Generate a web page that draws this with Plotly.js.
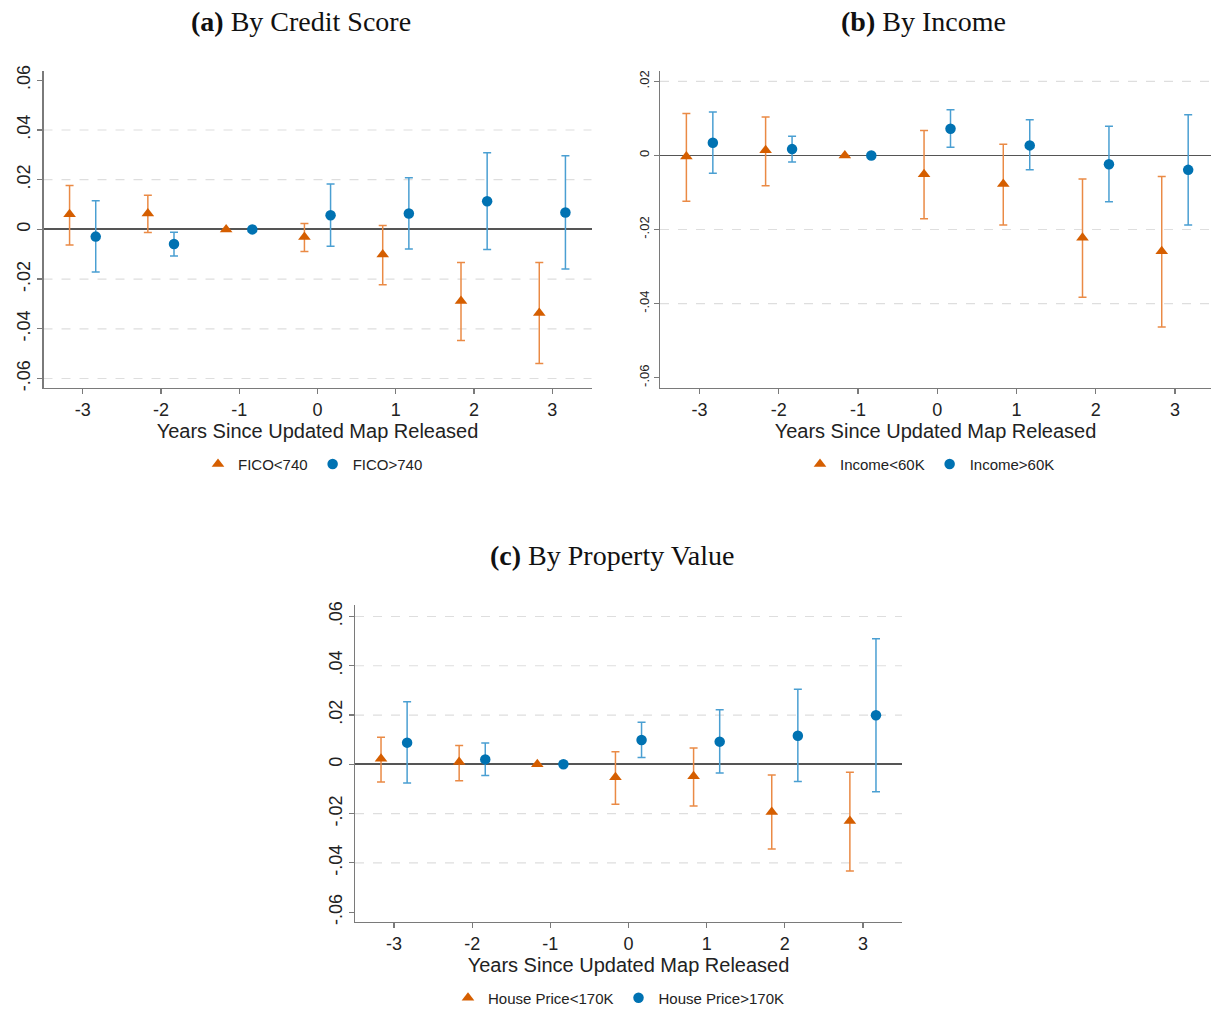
<!DOCTYPE html>
<html>
<head>
<meta charset="utf-8">
<script src="https://cdn.plot.ly/plotly-3.0.1.min.js"></script>
<style>html,body{margin:0;padding:0;background:#fff;}#chart{width:1211px;height:1015px;}</style>
</head>
<body>
<div id="chart"></div>
<script>
// ---- data ----
const years = [-3, -2, -1, 0, 1, 2, 3];
const xTickText = ["-3", "-2", "-1", "0", "1", "2", "3"];

// (a) By Credit Score
const aLowPt = [0.0061, 0.0064, 0, -0.0031, -0.0101, -0.0288, -0.0336];
const aLowHi = [0.0177, 0.0137, null, 0.0024, 0.0016, -0.0133, -0.0133];
const aLowLo = [-0.0063, -0.0013, null, -0.0089, -0.0223, -0.0447, -0.0540];
const aHighPt = [-0.0029, -0.0059, 0, 0.0057, 0.0064, 0.0113, 0.0068];
const aHighHi = [0.0115, -0.0012, null, 0.0183, 0.0208, 0.0308, 0.0296];
const aHighLo = [-0.0171, -0.0107, null, -0.0068, -0.0079, -0.0081, -0.0159];

// (b) By Income
const bLowPt = [-0.0003, 0.0014, 0, -0.0051, -0.0077, -0.0222, -0.0259];
const bLowHi = [0.0113, 0.0104, null, 0.0067, 0.0030, -0.0064, -0.0057];
const bLowLo = [-0.0124, -0.0082, null, -0.0171, -0.0188, -0.0383, -0.0463];
const bHighPt = [0.0034, 0.0017, 0, 0.0072, 0.0027, -0.0024, -0.0039];
const bHighHi = [0.0117, 0.0052, null, 0.0123, 0.0096, 0.0079, 0.0110];
const bHighLo = [-0.0048, -0.0018, null, 0.0022, -0.0039, -0.0125, -0.0188];

// (c) By Property Value
const cLowPt = [0.0023, 0.0009, 0, -0.0052, -0.0048, -0.0193, -0.0230];
const cLowHi = [0.0110, 0.0076, null, 0.0051, 0.0066, -0.0043, -0.0032];
const cLowLo = [-0.0072, -0.0067, null, -0.0162, -0.0169, -0.0344, -0.0433];
const cHighPt = [0.0088, 0.0020, 0, 0.0099, 0.0092, 0.0116, 0.0199];
const cHighHi = [0.0254, 0.0087, null, 0.0171, 0.0221, 0.0305, 0.0510];
const cHighLo = [-0.0076, -0.0045, null, 0.0028, -0.0035, -0.0070, -0.0111];

const yTickVals = [-0.06, -0.04, -0.02, 0, 0.02, 0.04, 0.06];
const yTickText = ["-.06", "-.04", "-.02", "0", ".02", ".04", ".06"];
const gridA = [-0.06, -0.04, -0.02, 0.02, 0.04];
const gridB = [-0.04, -0.02, 0.02];
const gridC = [-0.04, -0.02, 0.02, 0.04, 0.06];

const titles = ["<b>(a)</b> By Credit Score", "<b>(b)</b> By Income", "<b>(c)</b> By Property Value"];
const legendNames = [["FICO<740", "FICO>740"], ["Income<60K", "Income>60K"], ["House Price<170K", "House Price>170K"]];
const xTitle = "Years Since Updated Map Released";

// ---- styles ----
const W = 1211, H = 1015;
const ORANGE = "#d55e00", ORANGE_CI = "#ea8a45";
const BLUE = "#0072b2", BLUE_CI = "#4a9fd2";
const OFF = 0.167;
const SANS = "Liberation Sans, Arial, sans-serif";
const SERIF = "Liberation Serif, Times New Roman, serif";

function errs(pt, hi, lo) {
  return {
    plus: pt.map((p, i) => hi[i] === null ? null : hi[i] - p),
    minus: pt.map((p, i) => lo[i] === null ? null : p - lo[i])
  };
}

const traces = [];
const panels = [
  {ax: "", low: [aLowPt, aLowHi, aLowLo], high: [aHighPt, aHighHi, aHighLo], leg: "legend"},
  {ax: "2", low: [bLowPt, bLowHi, bLowLo], high: [bHighPt, bHighHi, bHighLo], leg: "legend2"},
  {ax: "3", low: [cLowPt, cLowHi, cLowLo], high: [cHighPt, cHighHi, cHighLo], leg: "legend3"}
];
panels.forEach((p, k) => {
  const eL = errs(...p.low), eH = errs(...p.high);
  traces.push({
    type: "scatter", mode: "markers", name: legendNames[k][0],
    x: years.map(v => v - OFF), y: p.low[0],
    xaxis: "x" + p.ax, yaxis: "y" + p.ax, legend: p.leg,
    marker: {symbol: "triangle-up", size: 11, color: ORANGE},
    error_y: {type: "data", symmetric: false, array: eL.plus, arrayminus: eL.minus,
              color: ORANGE_CI, thickness: 1.5, width: 4},
    hoverinfo: "skip"
  });
  traces.push({
    type: "scatter", mode: "markers", name: legendNames[k][1],
    x: years.map(v => v + OFF), y: p.high[0],
    xaxis: "x" + p.ax, yaxis: "y" + p.ax, legend: p.leg,
    marker: {symbol: "circle", size: 10.5, color: BLUE},
    error_y: {type: "data", symmetric: false, array: eH.plus, arrayminus: eH.minus,
              color: BLUE_CI, thickness: 1.5, width: 4},
    hoverinfo: "skip"
  });
});

function px(x) { return x / W; }
function py(y) { return 1 - y / H; }

function xAxis(d0, d1, range, anchor) {
  return {
    domain: [px(d0), px(d1)], range: range, anchor: anchor,
    tickvals: years, ticktext: xTickText,
    showgrid: false, zeroline: false,
    showline: true, linecolor: "#7a7a7a", linewidth: 1.3,
    ticks: "outside", ticklen: 5, tickcolor: "#7a7a7a", tickwidth: 1.2,
    tickfont: {family: SANS, size: 18, color: "#222"},
    title: {text: xTitle, font: {family: SANS, size: 20, color: "#222"}, standoff: 4},
    fixedrange: true
  };
}
function yAxis(t0, t1, range, anchor, fsize) {
  return {
    domain: [py(t1), py(t0)], range: range, anchor: anchor,
    tickvals: yTickVals, ticktext: yTickText, tickangle: -90,
    showgrid: false,
    zeroline: true, zerolinecolor: "#555555", zerolinewidth: 1.8,
    showline: true, linecolor: "#7a7a7a", linewidth: 1.3,
    ticks: "outside", ticklen: 5, tickcolor: "#7a7a7a", tickwidth: 1.2,
    tickfont: {family: SANS, size: fsize, color: "#222"},
    fixedrange: true
  };
}

const shapes = [];
[[gridA, ""], [gridB, "2"], [gridC, "3"]].forEach(([g, ax]) => {
  g.forEach(v => shapes.push({
    type: "line", xref: "x" + ax + " domain", yref: "y" + ax,
    x0: 0, x1: 1, y0: v, y1: v, layer: "below",
    line: {color: "#dedede", width: 1.2, dash: "dash"}
  }));
});

const annotations = [
  {text: titles[0], x: px(301), y: py(22)},
  {text: titles[1], x: px(923), y: py(22)},
  {text: titles[2], x: px(612), y: py(559)}
].map(a => Object.assign(a, {
  xref: "paper", yref: "paper", xanchor: "center", yanchor: "middle",
  showarrow: false, font: {family: SERIF, size: 28, color: "#111"}
}));

function legendAt(x, y) {
  return {
    orientation: "h", x: px(x), y: py(y), xanchor: "left", yanchor: "middle",
    font: {family: SANS, size: 15, color: "#222"}, bgcolor: "rgba(0,0,0,0)",
    itemclick: false, itemdoubleclick: false
  };
}

const layout = {
  width: W, height: H,
  margin: {l: 0, r: 0, t: 0, b: 0},
  paper_bgcolor: "#fff", plot_bgcolor: "#fff",
  showlegend: true,
  xaxis: xAxis(43.5, 591.5, [-3.5, 3.5], "y"),
  yaxis: yAxis(71, 390, [-0.0637, 0.0639], "x", 18),
  xaxis2: xAxis(660, 1211, [-3.5, 3.455], "y2"),
  yaxis2: yAxis(71, 390, [-0.0627, 0.0229], "x2", 13),
  xaxis3: xAxis(355, 902, [-3.5, 3.5], "y3"),
  yaxis3: yAxis(609, 927.5, [-0.0640, 0.0645], "x3", 18),
  legend: legendAt(198, 467),
  legend2: legendAt(800, 467),
  legend3: legendAt(448, 1004),
  shapes: shapes,
  annotations: annotations
};

Plotly.newPlot("chart", traces, layout, {displayModeBar: false, staticPlot: true});
</script>
</body>
</html>
